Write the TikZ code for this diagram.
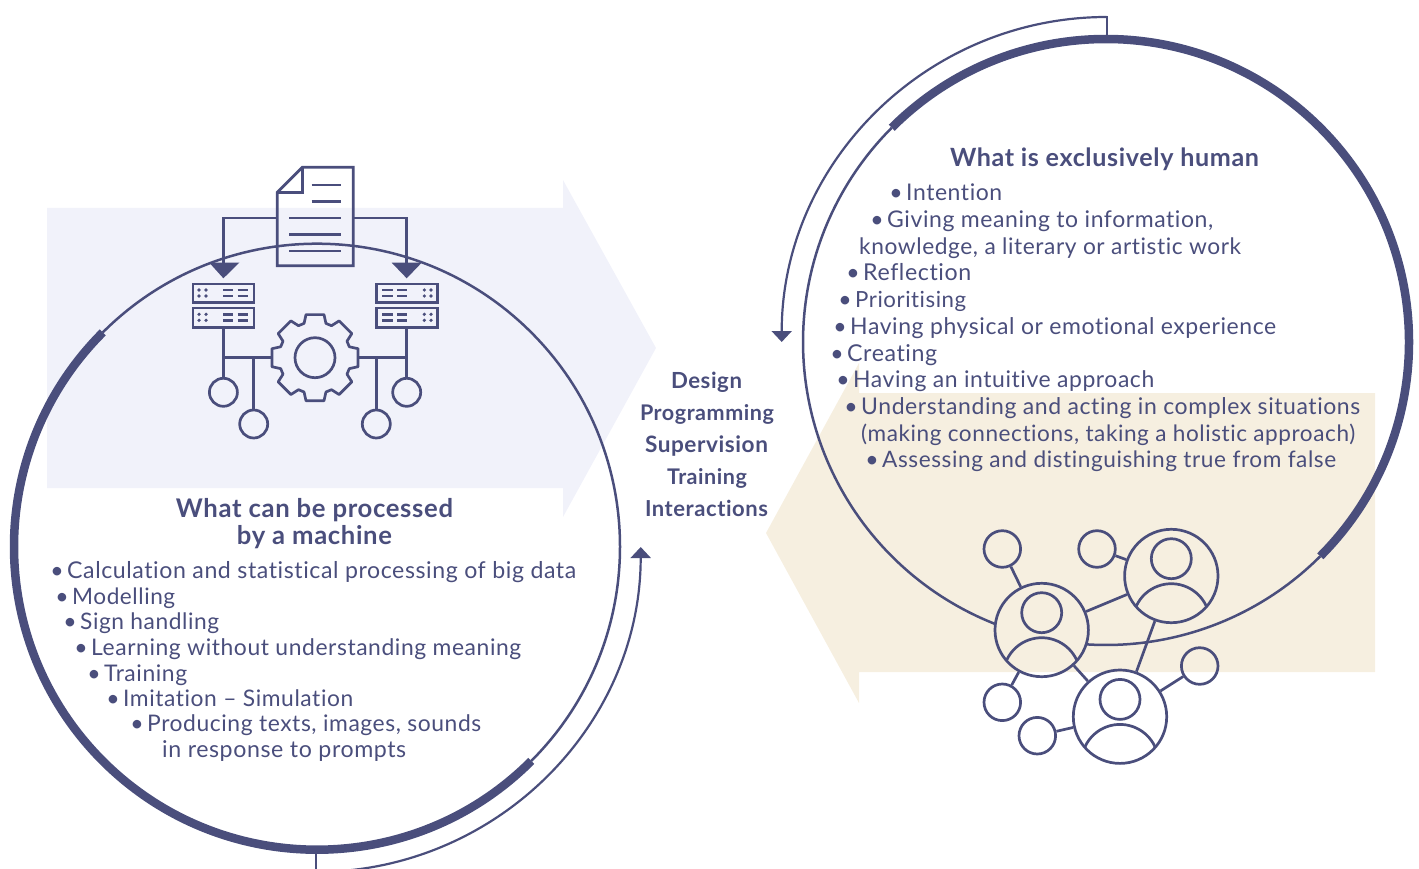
\documentclass[tikz,border=0pt]{standalone}
\usepackage{fontspec}
\usepackage{graphicx}
\setmainfont{Lato}[LetterSpace=2.5,Ligatures=NoCommon]
\usetikzlibrary{arrows.meta}
\definecolor{ink}{HTML}{4A4E7C}
\definecolor{lav}{HTML}{F1F2FA}
\definecolor{cream}{HTML}{F6EFE0}
\newcommand{\bul}{\makebox[0pt][r]{\raisebox{0pt}{\fontsize{23}{23}\selectfont •}\hspace{3.5pt}}}
\newcommand{\fitw}[2]{\resizebox{#1pt}{!}{#2}}
\tikzset{
  thinring/.style={draw=ink,line width=2.5pt},
  thickring/.style={draw=ink,line width=8.5pt},
  flow/.style={draw=ink,line width=2.2pt,-{Triangle[length=11pt,width=20pt]}},
  icon/.style={draw=ink,line width=2.7pt},
  tipfill/.style={fill=ink,draw=none},
  ball/.style={circle,icon,minimum size=28pt,inner sep=0pt},
  ballbig/.style={circle,icon,minimum size=36.6pt,inner sep=0pt},
  personring/.style={circle,icon,minimum size=93.4pt,inner sep=0pt},
  rack/.style={icon,minimum width=61pt,inner sep=0pt},
  item/.style={anchor=base west,text=ink,font=\fontsize{23}{23}\selectfont,inner sep=0pt,yshift=-1.5pt},
  head/.style={anchor=base,text=ink,font=\fontsize{25.2}{25.2}\selectfont\bfseries,inner sep=0pt,yshift=-1.2pt},
  midhead/.style={head,font=\fontsize{21.5}{21.5}\selectfont\bfseries},
}
\newcommand{\rackrow}[4]{% y1 y2 and dots/lines x
  \foreach \yy in {#1,#2}{
    \foreach \xx in {#3}{\fill[ink] (\xx,\yy) circle (1.8);}
    \foreach \xx/\xxb in {#4}{\draw[icon,line width=2.4pt] (\xx,\yy) -- (\xxb,\yy);}
  }}
\newcommand{\person}[3]{%
  \node[personring] (#1) at (#2,#3) {};
  \node[circle,icon,minimum size=40pt,inner sep=0pt] (#1h) at (#2,#3-17.3) {};
  \draw[icon] (#2-35,#3+30) arc[start angle=205,end angle=335,radius=38.6];
}
\begin{document}
\begin{tikzpicture}[x=1pt,y=-1pt]
\useasboundingbox (0,0) rectangle (1419,869);
\clip (0,0) rectangle (1419,869);
% background arrows
\fill[lav] (47,208) -- (563,208) -- (563,180) -- (656,348) -- (563,517) -- (563,488) -- (47,488) -- cycle;
\fill[cream] (1375,393) -- (859,393) -- (859,363) -- (766,533) -- (859,703) -- (859,672) -- (1375,672) -- cycle;
% rings
\coordinate (L) at (317,546.7);
\coordinate (R) at (1106,342);
\draw[thinring] ([shift={(L)}]225:303) arc[start angle=225,end angle=405,radius=303];
\draw[thickring] ([shift={(L)}]225:303) arc[start angle=225,end angle=45,radius=303];
\draw[thinring] ([shift={(R)}]45:303) arc[start angle=45,end angle=93.6,radius=303];
\draw[thinring] ([shift={(R)}]111.4:303) arc[start angle=111.4,end angle=225,radius=303];
\draw[thickring] ([shift={(R)}]225:303) arc[start angle=225,end angle=405,radius=303];
% flow arrows
\coordinate (Lo) at (315.7,547);
\coordinate (Ro) at (1106.7,342);
\draw[flow] ([shift={(Lo)}]90:325) arc[start angle=90,end angle=0,radius=325];
\draw[draw=ink,line width=2.2pt] (315.7,853) -- (315.7,872);
\draw[flow] ([shift={(Ro)}]270:325) arc[start angle=270,end angle=180,radius=325];
\draw[draw=ink,line width=2.2pt] (1106.7,16) -- (1106.7,40);
% document
\draw[icon,line join=miter] (277.3,192.3) -- (302.3,167.3) -- (353.3,167.3) -- (353.3,265.7) -- (277.3,265.7) -- cycle;
\draw[icon] (277.3,192.3) -- (302.3,192.3) -- (302.3,167.3);
\foreach \yy in {185,201.7}{\draw[icon] (311.7,\yy) -- (340.7,\yy);}
\foreach \yy in {218,234.7,251}{\draw[icon] (289.3,\yy) -- (340.7,\yy);}
\coordinate (docL) at (277.3,218);
\coordinate (docR) at (353.3,218);
% racks
\node[rack,minimum height=18.7pt] (r1) at (223.6,293.3) {};
\node[rack,minimum height=19.3pt] (r2) at (223.6,317.6) {};
\node[rack,minimum height=18.7pt] (r3) at (406.7,293.3) {};
\node[rack,minimum height=19.3pt] (r4) at (406.7,317.6) {};
\rackrow{290}{296}{199,206}{223.3/233.3,237.7/248.3}
\rackrow{314.3}{320.3}{199,206}{223.3/233.3,237.7/248.3}
\rackrow{290}{296}{424.3,431}{382.3/392.7,397.3/407.3}
\rackrow{314.3}{320.3}{424.3,431}{382.3/392.7,397.3/407.3}
% arrows doc to racks
\coordinate (t1) at (223.4,278.3);
\coordinate (t2) at (406.7,278.3);
\draw[icon] (docL) -| (223.4,265);
\draw[icon] (docR) -| (406.7,265);
\fill[tipfill] (209.3,262.7) -- (239.3,262.7) -- (t1) -- cycle;
\fill[tipfill] (391.7,262.7) -- (421.7,262.7) -- (t2) -- cycle;
% gear
\begin{scope}[shift={(315,357.7)}]
\draw[icon,line join=round] (-11.8:44)
  \foreach \a in {0,45,...,315}{ -- ({\a-11.8}:44) -- ({\a+11.8}:44) -- ({\a+17.7}:36) -- ({\a+27.3}:36) } -- cycle;
\node[circle,icon,minimum size=40pt,inner sep=0pt] (gearhub) at (0,0) {};
\coordinate (gearL) at (-43.4,0);
\coordinate (gearR) at (43.4,0);
\end{scope}
% balls and wires
\node[ball] (b1) at (223.4,392.3) {};
\node[ball] (b2) at (253.7,424) {};
\node[ball] (b3) at (376.3,424) {};
\node[ball] (b4) at (406.7,392.3) {};
\draw[icon] (r2) -- (b1);
\draw[icon] (r4) -- (b4);
\coordinate (jl) at (223.4,357.7);
\coordinate (jr) at (406.7,357.7);
\draw[icon] (jl) -- (gearL);
\draw[icon] (gearR) -- (jr);
\draw[icon] (b2) -- (253.7,357.7);
\draw[icon] (b3) -- (376.3,357.7);
% people
\person{p1}{1041.7}{630}
\person{p2}{1171.3}{576}
\person{p3}{1120}{716.7}
\node[ballbig] (s1) at (1002.3,549) {};
\node[ballbig] (s2) at (1097,549) {};
\node[ballbig] (s3) at (1002.3,702.3) {};
\node[ballbig] (s4) at (1037.3,735.7) {};
\node[ballbig] (s5) at (1199.7,666) {};
\draw[icon] (s1) -- (p1);
\draw[icon] (s2) -- (p2);
\draw[icon] (s3) -- (p1);
\draw[icon] (s4) -- (p3);
\draw[icon] (s5) -- (p3);
\draw[icon] (p1) -- (p2);
\draw[icon] (p2) -- (p3);
\draw[icon] (p1) -- (p3);
% left text
\node[head] (lt1) at (314.5,516) {\fitw{277}{What can be processed}};
\node[head] (lt2) at (314.5,543) {\fitw{155}{by a machine}};
\node[item] (l1) at (67,577) {\bul\fitw{509}{Calculation and statistical processing of big data}};
\node[item] (l2) at (72,603) {\bul\fitw{103}{Modelling}};
\node[item] (l3) at (80,628) {\bul\fitw{139}{Sign handling}};
\node[item] (l4) at (91,654) {\bul\fitw{430}{Learning without understanding meaning}};
\node[item] (l5) at (104,680) {\bul\fitw{83}{Training}};
\node[item] (l6) at (123,705) {\bul\fitw{230}{Imitation – Simulation}};
\node[item] (l7) at (147,730) {\bul\fitw{334}{Producing texts, images, sounds}};
\node[item] (l8) at (162,756) {\fitw{244}{in response to prompts}};
% centre text
\node[midhead] (c1) at (706.5,387) {\fitw{71}{Design}};
\node[midhead] (c2) at (707,419) {\fitw{134}{Programming}};
\node[midhead] (c3) at (706.5,451) {\fitw{123}{Supervision}};
\node[midhead] (c4) at (707,483) {\fitw{80}{Training}};
\node[midhead] (c5) at (706.5,515) {\fitw{123}{Interactions}};
% right text
\node[head] (rt) at (1104.5,165) {\fitw{309}{What is exclusively human}};
\node[item] (q1) at (906,199) {\bul\fitw{96}{Intention}};
\node[item] (q2) at (887,226) {\bul\fitw{326}{Giving meaning to information,}};
\node[item] (q3) at (859,253) {\fitw{382}{knowledge, a literary or artistic work}};
\node[item] (q4) at (863,279) {\bul\fitw{108}{Reflection}};
\node[item] (q5) at (855,306) {\bul\fitw{111}{Prioritising}};
\node[item] (q6) at (850,333) {\bul\fitw{426}{Having physical or emotional experience}};
\node[item] (q7) at (847,360) {\bul\fitw{90}{Creating}};
\node[item] (q8) at (853,386) {\bul\fitw{301}{Having an intuitive approach}};
\node[item] (q9) at (861,413) {\bul\fitw{499}{Understanding and acting in complex situations}};
\node[item] (q10) at (861,440) {\fitw{494}{(making connections, taking a holistic approach)}};
\node[item] (q11) at (882,466) {\bul\fitw{454}{Assessing and distinguishing true from false}};
\end{tikzpicture}
\end{document}
